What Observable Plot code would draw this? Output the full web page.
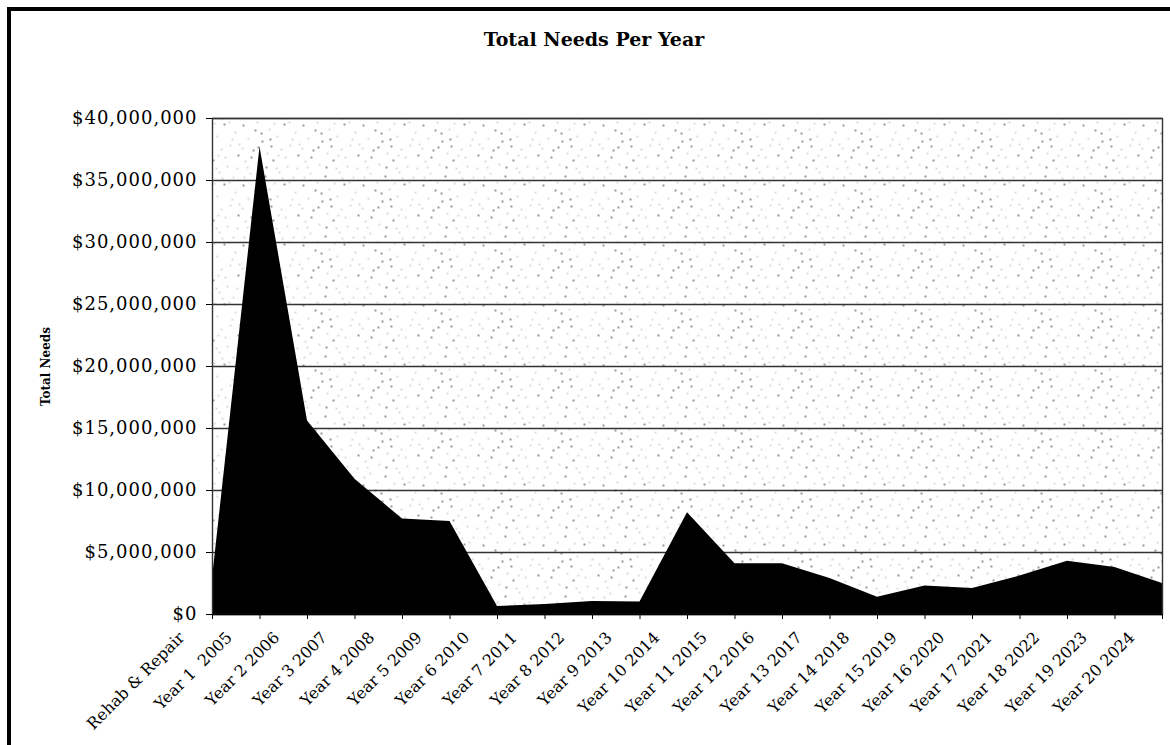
<!DOCTYPE html>
<html>
<head>
<meta charset="utf-8">
<script src="https://cdn.jsdelivr.net/npm/d3@7"></script>
<script src="https://cdn.jsdelivr.net/npm/@observablehq/plot@0.6"></script>
<style>
  html, body { margin: 0; padding: 0; background: #fff; overflow: hidden; width: 1170px; height: 745px; }
  #frame { position: absolute; left: 7px; top: 7px; width: 1200px; height: 800px; border-left: 4px solid #000; border-top: 4px solid #000; }
  #title { position: absolute; left: 0; top: 30px; width: 1188px; text-align: center; font-family: "DejaVu Serif", serif; font-weight: bold; font-size: 19px; line-height: 19px; color: #000; }
  #chart { position: absolute; left: 0; top: 0; }
</style>
</head>
<body>
<div id="frame"></div>
<div id="title">Total Needs Per Year</div>
<div id="chart"></div>
<script>
const categories = [
  "Rehab & Repair", "Year 1\u00a0 2005", "Year 2 2006", "Year 3 2007", "Year 4 2008",
  "Year 5 2009", "Year 6 2010", "Year 7 2011", "Year 8 2012", "Year 9 2013",
  "Year 10 2014", "Year 11 2015", "Year 12 2016", "Year 13 2017", "Year 14 2018",
  "Year 15 2019", "Year 16 2020", "Year 17 2021", "Year 18 2022", "Year 19 2023",
  "Year 20 2024"
];
const totalNeeds = [
  2900000, 37700000, 15600000, 10900000, 7700000,
  7500000, 650000, 800000, 1050000, 1000000,
  8200000, 4100000, 4100000, 2900000, 1400000,
  2300000, 2100000, 3100000, 4300000, 3800000,
  2500000
];
const yTicks = [0, 5000000, 10000000, 15000000, 20000000, 25000000, 30000000, 35000000, 40000000];
const yTitle = "Total Needs";

// stipple texture tile (decorative background only)
const stippleDots = [[3,5],[17,2],[29,9],[44,4],[55,12],[8,18],[22,21],[37,16],[50,25],[13,30],[27,33],[41,29],[58,35],[5,41],[19,44],[33,40],[47,46],[10,53],[25,56],[39,52],[53,57],[31,26],[2,28],[45,37],[15,10],[36,48],[57,48],[21,13],[49,2],[7,47],[26,47],[42,58],[34,3],[11,37],[52,19],[38,35],[18,27],[4,57],[59,24],[30,19]];

const data = categories.map((c, i) => ({cat: c, value: totalNeeds[i]}));
const fmt = d => "$" + d3.format(",")(d);

const chart = Plot.plot({
  width: 1170,
  height: 745,
  marginLeft: 212,
  marginRight: 8,
  marginTop: 118,
  marginBottom: 131,
  style: {fontFamily: "DejaVu Serif", fontSize: "17px", background: "transparent", color: "#000", overflow: "visible"},
  x: {type: "point", domain: categories, range: [212, 1162], padding: 0, align: 0.5, round: false, axis: null},
  y: {domain: [0, 40000000], axis: null},
  marks: [
    Plot.frame({fill: "url(#stip)", stroke: "none"}),
    Plot.ruleY(yTicks.slice(1), {stroke: "#333", strokeWidth: 1.4}),
    Plot.areaY(data, {x: "cat", y: "value", fill: "#000", curve: "linear"}),
    Plot.frame({stroke: "#333", strokeWidth: 1.4}),
    Plot.ruleY([0], {stroke: "#000", strokeWidth: 1.4}),
    Plot.axisY({ticks: yTicks, tickSize: 6, tickPadding: 9, tickFormat: fmt, label: null, stroke: "#000", fontSize: 18}),
    Plot.axisX({tickSize: 5, tickFormat: () => "", label: null, stroke: "#000"}),
    Plot.text(categories, {x: d => d, frameAnchor: "bottom", rotate: -45, textAnchor: "end", dx: -27, dy: 24, fontSize: 16}),
    Plot.text([yTitle], {frameAnchor: "left", dx: -166, rotate: -90, textAnchor: "middle", fontWeight: "bold", fontSize: 12})
  ]
});

const svg = d3.select(chart);
svg.selectAll('g[aria-label="y-axis tick label"] text').style("letter-spacing", "1px");
const pat = svg.insert("defs", ":first-child").append("pattern")
  .attr("id", "stip").attr("patternUnits", "userSpaceOnUse")
  .attr("width", 60).attr("height", 60);
pat.append("rect").attr("width", 60).attr("height", 60).attr("fill", "#fff");
stippleDots.forEach((p, i) => {
  pat.append("circle").attr("cx", p[0]).attr("cy", p[1])
    .attr("r", i % 3 === 0 ? 0.8 : 0.6)
    .attr("fill", i % 3 === 0 ? "#111" : "#666");
});
document.getElementById("chart").appendChild(chart);
</script>
</body>
</html>
